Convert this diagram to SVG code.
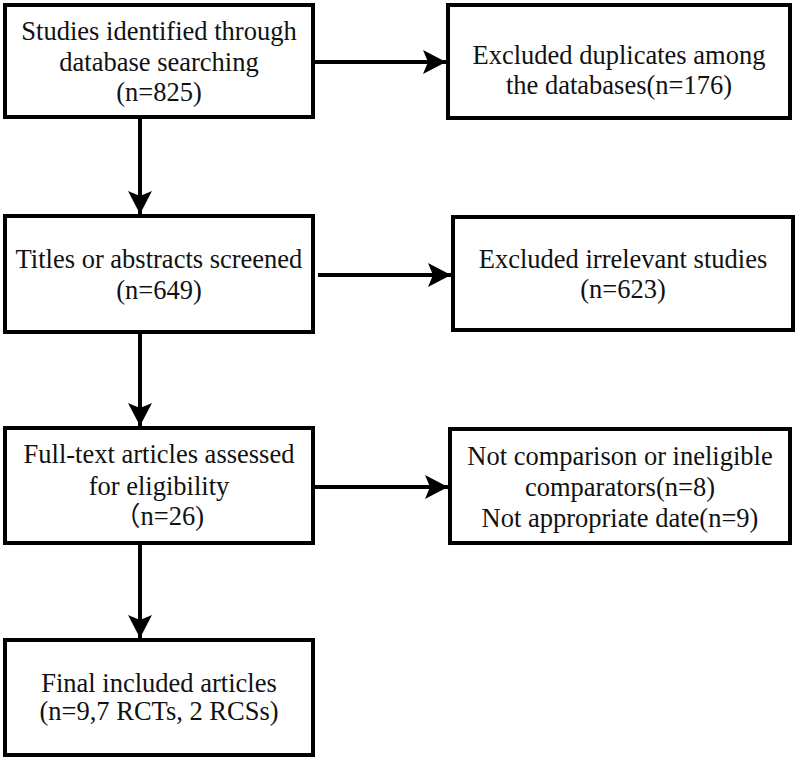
<svg xmlns="http://www.w3.org/2000/svg" width="800" height="760" viewBox="0 0 800 760">
<style>
.box{fill:#fff;stroke:#000;stroke-width:4}
.t{font-family:'Liberation Serif',serif;font-size:26.5px;fill:#111;text-anchor:middle}
.cjk{font-family:'Noto Sans CJK SC',sans-serif}
.c{stroke:#000;stroke-width:4;fill:none}
</style>
<defs>
<marker id="ah" markerUnits="userSpaceOnUse" markerWidth="26" markerHeight="28" viewBox="-24 -13 26 26" refX="0" refY="0" orient="auto">
<path d="M0,0 L-23,-12 L-18,0 L-23,12 Z" fill="#000"/>
</marker>
</defs>
<rect width="800" height="760" fill="#fff"/>
<g id="connectors">
<line class="c" x1="140" y1="119" x2="140" y2="214" marker-end="url(#ah)"/>
<line class="c" x1="140" y1="334" x2="140" y2="426" marker-end="url(#ah)"/>
<line class="c" x1="140" y1="545" x2="140" y2="638" marker-end="url(#ah)"/>
<line class="c" x1="315" y1="62" x2="446" y2="62" marker-end="url(#ah)"/>
<line class="c" x1="318" y1="275" x2="451" y2="275" marker-end="url(#ah)"/>
<line class="c" x1="315" y1="487" x2="448" y2="487" marker-end="url(#ah)"/>
</g>
<g id="n1">
<rect class="box" x="5" y="5" width="308" height="112"/>
<text class="t" x="159" y="40" font-family="Liberation Serif">Studies identified through</text>
<text class="t" x="159" y="71" font-family="Liberation Serif">database searching</text>
<text class="t" x="159" y="101" font-family="Liberation Serif">(n=825)</text>
</g>
<g id="n2">
<rect class="box" x="448" y="5" width="342" height="113"/>
<text class="t" x="619" y="64">Excluded duplicates among</text>
<text class="t" x="619" y="94">the databases(n=176)</text>
</g>
<g id="n3">
<rect class="box" x="5" y="216" width="308" height="116"/>
<text class="t" x="159" y="268">Titles or abstracts screened</text>
<text class="t" x="159" y="299">(n=649)</text>
</g>
<g id="n4">
<rect class="box" x="453" y="217" width="340" height="113"/>
<text class="t" x="623" y="268">Excluded irrelevant studies</text>
<text class="t" x="623" y="298">(n=623)</text>
</g>
<g id="n5">
<rect class="box" x="5" y="428" width="308" height="115"/>
<text class="t" x="159" y="463">Full-text articles assessed</text>
<text class="t" x="159" y="495">for eligibility</text>
<text class="t" x="159" y="525"><tspan class="cjk">（</tspan>n=26)</text>
</g>
<g id="n6">
<rect class="box" x="450" y="429" width="340" height="114"/>
<text class="t" x="620" y="465">Not comparison or ineligible</text>
<text class="t" x="620" y="496">comparators(n=8)</text>
<text class="t" x="620" y="527">Not appropriate date(n=9)</text>
</g>
<g id="n7">
<rect class="box" x="5" y="640" width="308" height="115"/>
<text class="t" x="159" y="692">Final included articles</text>
<text class="t" x="159" y="720">(n=9,7 RCTs, 2 RCSs)</text>
</g>
</svg>
